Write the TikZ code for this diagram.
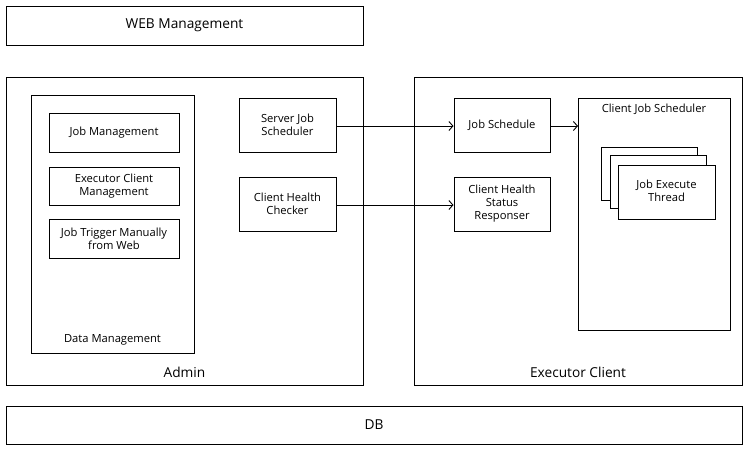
\documentclass[tikz,border=0pt]{standalone}
\usepackage{fontspec}
\setmainfont{Open Sans}
\usetikzlibrary{arrows.meta}
\begin{document}
\begin{tikzpicture}[x=1pt,y=-1pt,
  box/.style={draw,line width=1pt,fill=white},
  small/.style={font=\fontsize{11.2}{13}\selectfont,align=center},
  big/.style={font=\fontsize{13.7}{16}\selectfont},
  conn/.style={line width=0.9pt,-{Straight Barb[length=4pt,width=9pt,line width=0.9pt]}}]
\useasboundingbox (0,0) rectangle (750,451);
\fill[white] (0,0) rectangle (750,451);
% WEB
\draw[box] (6,6) rectangle (363,45);
\node[big] (web) at (184.5,25.5) {WEB Management};
% Admin
\draw[box] (6,77) rectangle (363,385);
\node[big] (admin) at (184.5,372) {Admin};
\draw[box] (31,95) rectangle (194,353);
\node[small] (dm) at (112.5,339.5) {Data Management};
\node[box,small,minimum width=130pt,minimum height=39pt,inner sep=0pt] (jm) at (114,132.5) {Job Management};
\node[box,small,minimum width=130pt,minimum height=38pt,inner sep=0pt] (ecm) at (114,186) {Executor Client\\Management};
\node[box,small,minimum width=130pt,minimum height=39pt,inner sep=0pt] (jt) at (114,238.5) {Job Trigger Manually\\from Web};
\node[box,small,minimum width=97pt,minimum height=54pt,inner sep=0pt] (sjs) at (287.5,125) {Server Job\\Scheduler};
\node[box,small,minimum width=97pt,minimum height=54pt,inner sep=0pt] (chc) at (287.5,204) {Client Health\\Checker};
% Executor
\draw[box] (414,77) rectangle (742,385);
\node[big] (exec) at (578,372) {Executor Client};
\node[box,small,minimum width=96pt,minimum height=54pt,inner sep=0pt] (js) at (502,125) {Job Schedule};
\node[box,small,minimum width=96pt,minimum height=54pt,inner sep=0pt] (chs) at (502,204) {Client Health\\Status\\Responser};
\draw[box] (578,98) rectangle (730,330);
\coordinate (cjsin) at (578,126);
\node[small] (cjs) at (654,109) {Client Job Scheduler};
\draw[box] (601,147) rectangle (697,200);
\draw[box] (610,155) rectangle (706,208);
\node[box,small,minimum width=97pt,minimum height=54pt,inner sep=0pt] (jet) at (666.5,192) {};
\node[small] (jett) at (666.5,191) {Job Execute\\Thread};
% DB
\draw[box] (6,406) rectangle (742,444);
\node[big] (db) at (374,424.5) {DB};
% arrows
\draw[conn] (sjs.east |- 0,126) -- (js.west |- 0,126);
\draw[conn] (chc.east |- 0,205) -- (chs.west |- 0,205);
\draw[conn] (js.east |- 0,126) -- (cjsin);
\end{tikzpicture}
\end{document}
